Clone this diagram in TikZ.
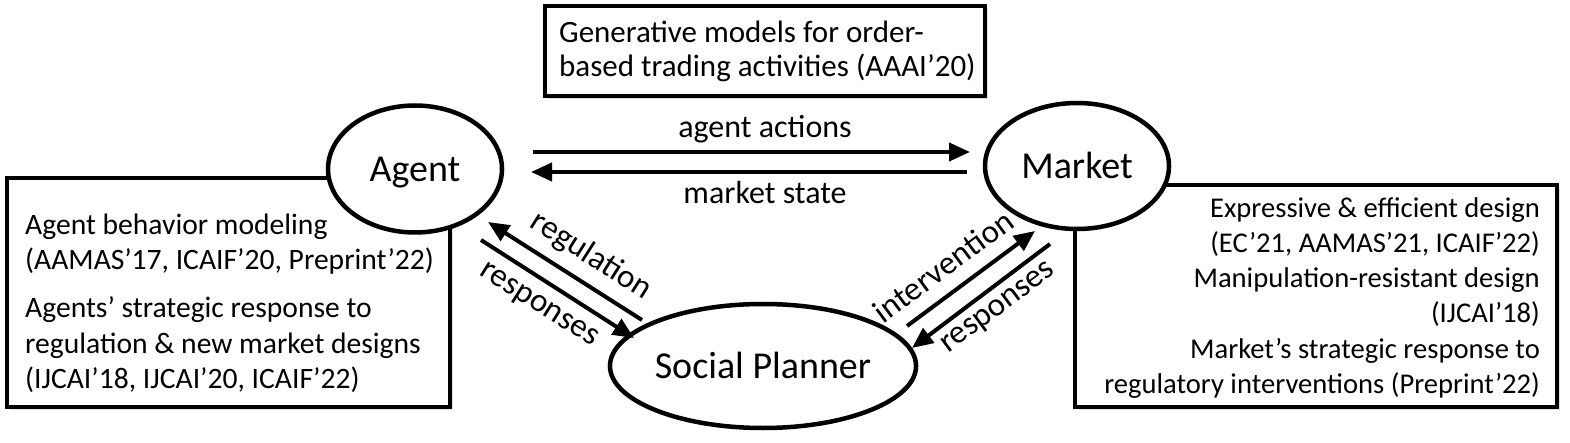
\documentclass[tikz,border=0pt]{standalone}
\usepackage{fontspec}
\setmainfont{Carlito}
\usetikzlibrary{arrows.meta,shapes.geometric,shadows}
\begin{document}
\begin{tikzpicture}[x=1pt,y=-1pt,
  boxstyle/.style={draw,line width=4.5pt,fill=white,drop shadow={opacity=0.25,shadow xshift=3pt,shadow yshift=-3pt}},
  ell/.style={draw,ellipse,line width=4.5pt,fill=white,inner sep=0pt,font=\fontsize{38}{40}\selectfont,text height=24.5pt,text depth=0pt},
  arr/.style={line width=4pt,-{Triangle[length=21pt,width=18pt]}},
  lbl/.style={font=\fontsize{32}{36}\selectfont,inner sep=0pt,anchor=base},
  dlbl/.style={font=\fontsize{33}{36}\selectfont,inner sep=0pt},
  ttxt/.style={font=\fontsize{31}{36}\selectfont,inner sep=0pt,anchor=base west},
  ltxt/.style={font=\fontsize{29.6}{36}\selectfont,inner sep=0pt,anchor=base west},
  rtxt/.style={font=\fontsize{28.6}{36}\selectfont,inner sep=0pt,anchor=base east}
]
\useasboundingbox (0,0) rectangle (1570,443);
% boxes
\draw[boxstyle] (545,6) rectangle (985,96);
\node[ttxt] (g1) at (559,43) {Generative models for order-};
\node[ttxt] (g2) at (559,77) {based trading activities (AAAI'20)};
\draw[boxstyle] (7,178) rectangle (450,407);
\draw[boxstyle] (1075,185) rectangle (1557,407);
% left texts
\node[ltxt] (l1) at (25,235) {Agent behavior modeling};
\node[ltxt] (l2) at (25,270) {(AAMAS'17, ICAIF'20, Preprint'22)};
\node[ltxt] (l3) at (25,317) {Agents' strategic response to};
\node[ltxt] (l4) at (25,353) {regulation \& new market designs};
\node[ltxt] (l5) at (25,388) {(IJCAI'18, IJCAI'20, ICAIF'22)};
% right texts
\node[rtxt] (r1) at (1540,218) {Expressive \& efficient design};
\node[rtxt] (r2) at (1540,253) {(EC'21, AAMAS'21, ICAIF'22)};
\node[rtxt] (r3) at (1540,288) {Manipulation-resistant design};
\node[rtxt] (r4) at (1540,323) {(IJCAI'18)};
\node[rtxt] (r5) at (1540,358) {Market's strategic response to};
\node[rtxt] (r6) at (1540,393) {regulatory interventions (Preprint'22)};
% ellipses
\node[ell,minimum width=174pt,minimum height=127pt] (A) at (415,169) {Agent};
\node[ell,minimum width=184pt,minimum height=126pt] (M) at (1077,166) {Market};
\node[ell,minimum width=276pt,minimum height=124pt] (S) at (763,366) {Social Planner};
% coordinates for arrow ends
\coordinate (aa1) at (533,152);
\coordinate (aa2) at (970,152);
\coordinate (ms1) at (967,172);
\coordinate (ms2) at (531,172);
\coordinate (rg1) at (642,320);
\coordinate (rg2) at (488,222);
\coordinate (rs1) at (481,240);
\coordinate (rs2) at (634,338);
\coordinate (iv1) at (907,326);
\coordinate (iv2) at (1035,231);
\coordinate (rr1) at (1050,244);
\coordinate (rr2) at (912,348);
\draw[arr] (aa1) -- (aa2);
\draw[arr] (ms1) -- (ms2);
\draw[arr] (rg1) -- (rg2);
\draw[arr] (rs1) -- (rs2);
\draw[arr] (iv1) -- (iv2);
\draw[arr] (rr1) -- (rr2);
% labels
\node[lbl] (laa) at (765,138) {agent actions};
\node[lbl] (lms) at (765,204) {market state};
\node[dlbl,rotate=-32.5] (lrg) at (591,256) {regulation};
\node[dlbl,rotate=-32.5] (lrs) at (538,306) {responses};
\node[dlbl,rotate=36.5] (liv) at (943,266) {intervention};
\node[dlbl,rotate=36.5] (lrr) at (999,309) {responses};
\end{tikzpicture}
\end{document}
